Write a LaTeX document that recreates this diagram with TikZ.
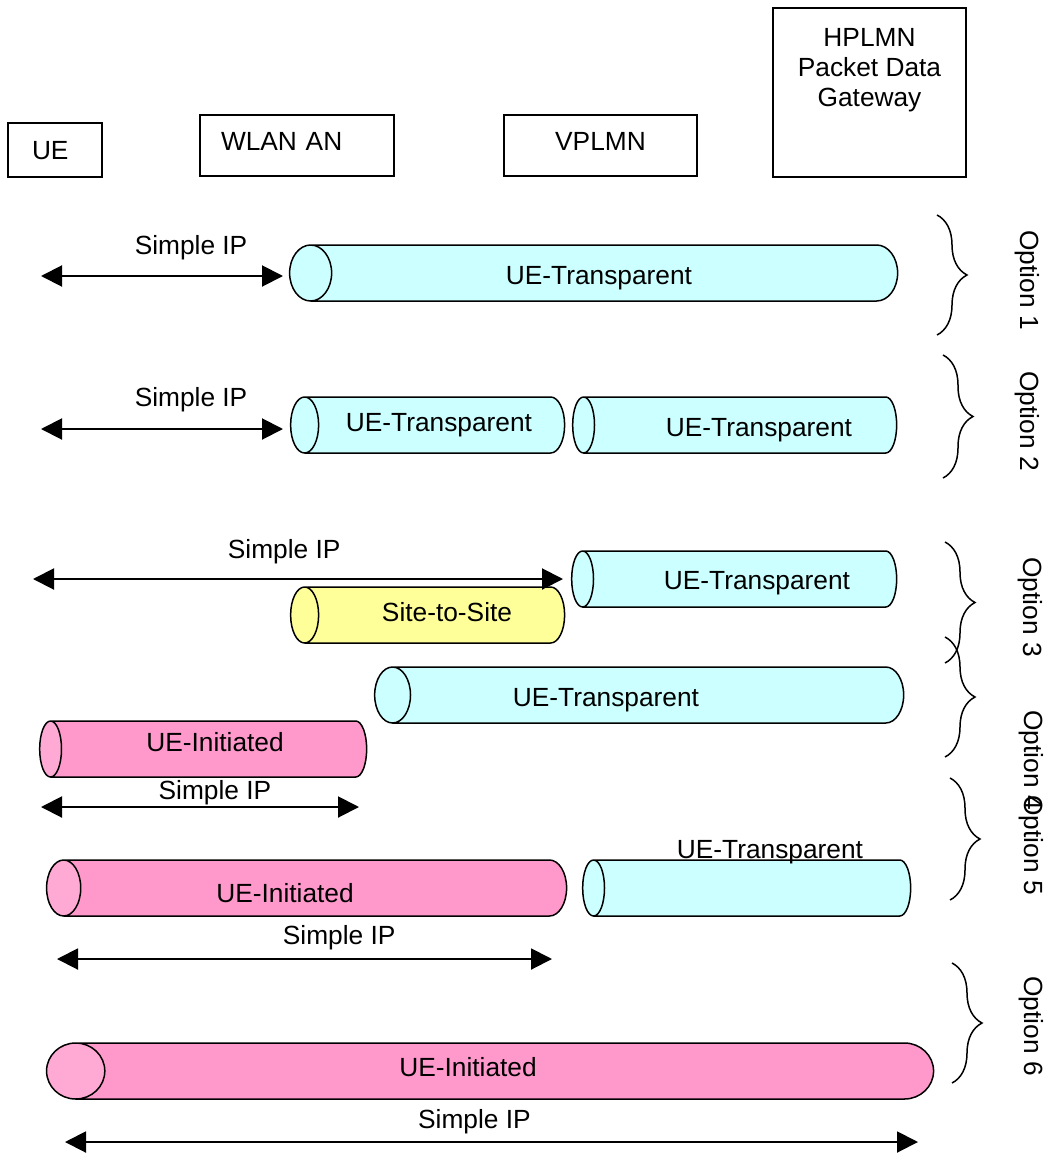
\documentclass[tikz,border=0pt]{standalone}
\usepackage{fontspec}
\setmainfont{Liberation Sans}
\usetikzlibrary{shapes.geometric,arrows.meta,decorations.pathreplacing}
\definecolor{tcyan}{HTML}{CCFFFF}
\definecolor{tyellow}{HTML}{FFFF99}
\definecolor{tpink}{HTML}{FF99CC}
\definecolor{tpinkend}{HTML}{FFAAD4}

\begin{document}
\begin{tikzpicture}[x=1pt, y=-1pt]
        \tikzstyle{every node}=[font=\fontsize{26.3}{30}\selectfont, inner sep=0pt]
        \tikzstyle{box}=[draw, line width=1.5pt, text height=19pt]
        \tikzstyle{tube}=[cylinder, shape border rotate=180, draw, line width=1.5pt, text height=37.5pt, text depth=18.5pt, cylinder uses custom fill]
        \tikzstyle{tubeT}=[tube, cylinder body fill=tcyan, cylinder end fill=tcyan]
        \tikzstyle{tubeI}=[tube, cylinder body fill=tpink, cylinder end fill=tpinkend]
        \tikzstyle{tubeS}=[tube, cylinder body fill=tyellow, cylinder end fill=tyellow]
        \tikzstyle{sip}=[{Triangle[length=21pt,width=21pt]}-{Triangle[length=21pt,width=21pt]}, line width=2pt]
        \tikzstyle{opt}=[decorate, decoration={brace, amplitude=30pt}, line width=1.5pt]
        \tikzstyle{optlabel}=[rotate=-90]

        \useasboundingbox (0,0) rectangle (1047,1153);

% the four network elements along the top

        \node[box, minimum width=94, minimum height=54, text width=46, inner xsep=24, align=left] (ue) at (55,150) {UE};
        \node[box, minimum width=194, minimum height=61, text width=152, inner xsep=21, align=left, text depth=9pt] (wlan) at (297,145.5) {WLAN AN};
        \node[box, minimum width=193, minimum height=61, text depth=9pt] (vplmn) at (600.5,145.5) {VPLMN};
        \node[box, minimum width=193, minimum height=169, align=center, text height=79pt, text depth=51pt] (hplmn) at (869.5,92.5) {HPLMN\\Packet Data\\Gateway};

% Option 1

        \coordinate (s1l) at (41,276);
        \coordinate (s1r) at (283,276);
        \draw[sip] (s1l) -- node[pos=0.62, yshift=28] (s1t) {Simple IP} (s1r);
        \node[tubeT, minimum height=608, aspect=0.75] (o1) at (604.5,273) {};
        \node (o1t) at (599,278) {UE-Transparent};

% Option 2

        \coordinate (s2l) at (41,429);
        \coordinate (s2r) at (283,429);
        \draw[sip] (s2l) -- node[pos=0.62, yshift=29] (s2t) {Simple IP} (s2r);
        \node[tubeT, minimum height=274, aspect=0.5] (o2a) at (435,425) {};
        \node (o2at) at (439,425) {UE-Transparent};
        \node[tubeT, minimum height=324, aspect=0.39] (o2b) at (740.5,425) {};
        \node (o2bt) at (759,430) {UE-Transparent};

% Option 3

        \node[tubeS, minimum height=274, aspect=0.5] (o3s) at (435,615) {};
        \node (o3st) at (447,612) {Site-to-Site};
        \coordinate (s3l) at (33,579);
        \coordinate (s3r) at (563,579);
        \draw[sip] (s3l) -- node[pos=0.474, yshift=27] (s3t) {Simple IP} (s3r);
        \node[tubeT, minimum height=325, aspect=0.39] (o3t) at (740,579) {};
        \node (o3tt) at (757,583) {UE-Transparent};

% Option 4

        \node[tubeT, minimum height=529, aspect=0.64] (o4t) at (648.5,695) {};
        \node (o4tt) at (606,700) {UE-Transparent};
        \node[tubeI, minimum height=327, aspect=0.39] (o4i) at (209,749) {};
        \node (o4it) at (215,742) {UE-Initiated};
        \coordinate (s4l) at (41,807);
        \coordinate (s4r) at (359,807);
        \draw[sip] (s4l) -- node[pos=0.547, yshift=14] (s4t) {Simple IP} (s4r);

% Option 5

        \node[tubeI, minimum height=520, aspect=0.61] (o5i) at (315.5,888) {};
        \node (o5it) at (285,893) {UE-Initiated};
        \node[tubeT, minimum height=328, aspect=0.39] (o5t) at (752.5,888) {};
        \node (o5tt) at (770,852) {UE-Transparent};
        \coordinate (s5l) at (57,959);
        \coordinate (s5r) at (552,959);
        \draw[sip] (s5l) -- node[pos=0.57, yshift=21] (s5t) {Simple IP} (s5r);

% Option 6

        \node[tubeI, minimum height=887, aspect=1.04] (o6i) at (505,1071) {};
        \node (o6it) at (468,1067) {UE-Initiated};
        \coordinate (s6l) at (65,1142);
        \coordinate (s6r) at (918,1142);
        \draw[sip] (s6l) -- node[pos=0.48, yshift=20] (s6t) {Simple IP} (s6r);

% braces and option names on the right

        \coordinate (b1t) at (937,215);  \coordinate (b1b) at (937,335);
        \coordinate (b2t) at (943,355);  \coordinate (b2b) at (943,478);
        \coordinate (b3t) at (945,542);  \coordinate (b3b) at (945,663);
        \coordinate (b4t) at (945,637);  \coordinate (b4b) at (945,757);
        \coordinate (b5t) at (950,778);  \coordinate (b5b) at (950,900);
        \coordinate (b6t) at (952,963);  \coordinate (b6b) at (952,1083);
        \draw[opt] (b1t) -- (b1b);
        \draw[opt] (b2t) -- (b2b);
        \draw[opt] (b3t) -- (b3b);
        \draw[opt] (b4t) -- (b4b);
        \draw[opt] (b5t) -- (b5b);
        \draw[opt] (b6t) -- (b6b);

        \node[optlabel] (n1) at (1027,280) {Option 1};
        \node[optlabel] (n2) at (1027,421) {Option 2};
        \node[optlabel] (n3) at (1030,607) {Option 3};
        \node[optlabel] (n4) at (1031,760) {Option 4};
        \node[optlabel] (n5) at (1031,845) {Option 5};
        \node[optlabel] (n6) at (1031,1026) {Option 6};

\end{tikzpicture}
\end{document}
